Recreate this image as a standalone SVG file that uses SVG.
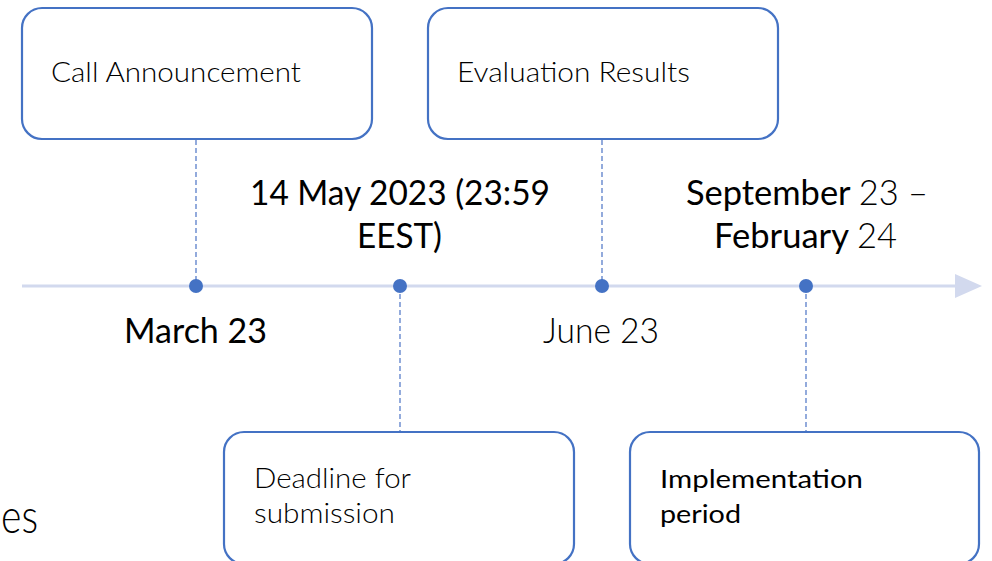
<svg xmlns="http://www.w3.org/2000/svg" width="992" height="561" viewBox="0 0 992 561">
<defs>
<style>
.box{fill:#fff;stroke:#4472C4;stroke-width:2.2}
.lead{stroke:#7896D4;stroke-width:1.6;stroke-dasharray:5 3;fill:none}
.dot{fill:#4472C4}
.t{font-family:Lato,"Open Sans",sans-serif;fill:#000}
.lt{font-weight:300;font-size:27px}
.rg{font-weight:400;font-size:25px}
.big{font-size:35px}
</style>
</defs>
<rect width="992" height="561" fill="#fff"/>
<text class="t" x="1" y="533" font-size="48" font-weight="300" textLength="37" lengthAdjust="spacingAndGlyphs">es</text>
<g id="connectors">
<line x1="22" y1="286" x2="958" y2="286" stroke="#D2D9EE" stroke-width="3"/>
<polygon points="955,274 982,286 955,298" fill="#D2D9EE"/>
<line class="lead" x1="196" y1="140" x2="196" y2="286"/>
<line class="lead" x1="400" y1="286" x2="400" y2="432"/>
<line class="lead" x1="602" y1="140" x2="602" y2="286"/>
<line class="lead" x1="806" y1="286" x2="806" y2="432"/>
<circle class="dot" cx="196" cy="286" r="7"/>
<circle class="dot" cx="400" cy="286" r="7"/>
<circle class="dot" cx="602" cy="286" r="7"/>
<circle class="dot" cx="806" cy="286" r="7"/>
</g>
<g id="call">
<rect class="box" x="22" y="8" width="350" height="131" rx="20"/>
<text class="t lt" x="51" y="82" textLength="250" lengthAdjust="spacingAndGlyphs">Call Announcement</text>
</g>
<g id="evaluation">
<rect class="box" x="428" y="8" width="350" height="131" rx="20"/>
<text class="t lt" x="457" y="82" textLength="233" lengthAdjust="spacingAndGlyphs">Evaluation Results</text>
</g>
<g id="deadline">
<rect class="box" x="224" y="432" width="350" height="132" rx="20"/>
<text class="t lt" x="254" y="488" textLength="157" lengthAdjust="spacingAndGlyphs">Deadline for</text>
<text class="t lt" x="254" y="523" textLength="141" lengthAdjust="spacingAndGlyphs">submission</text>
</g>
<g id="implementation">
<rect class="box" x="630" y="432" width="349" height="132" rx="20"/>
<text class="t rg" x="660" y="488" textLength="203" lengthAdjust="spacingAndGlyphs">Implementation</text>
<text class="t rg" x="660" y="523" textLength="81" lengthAdjust="spacingAndGlyphs">period</text>
</g>
<g id="date-may">
<text class="t big" x="250" y="205" textLength="300" lengthAdjust="spacingAndGlyphs">14 May 2023 (23:59</text>
<text class="t big" x="357" y="248" textLength="85" lengthAdjust="spacingAndGlyphs">EEST)</text>
</g>
<g id="date-march">
<text class="t big" x="124" y="343" textLength="143" lengthAdjust="spacingAndGlyphs">March 23</text>
</g>
<g id="date-june">
<text class="t big" x="543" y="343" font-weight="300" textLength="116" lengthAdjust="spacingAndGlyphs">June 23</text>
</g>
<g id="date-sept">
<text class="t big" x="686" y="205" textLength="242" lengthAdjust="spacingAndGlyphs">September <tspan font-weight="300">23 –</tspan></text>
<text class="t big" x="714" y="248" textLength="183" lengthAdjust="spacingAndGlyphs">February <tspan font-weight="300">24</tspan></text>
</g>
</svg>
